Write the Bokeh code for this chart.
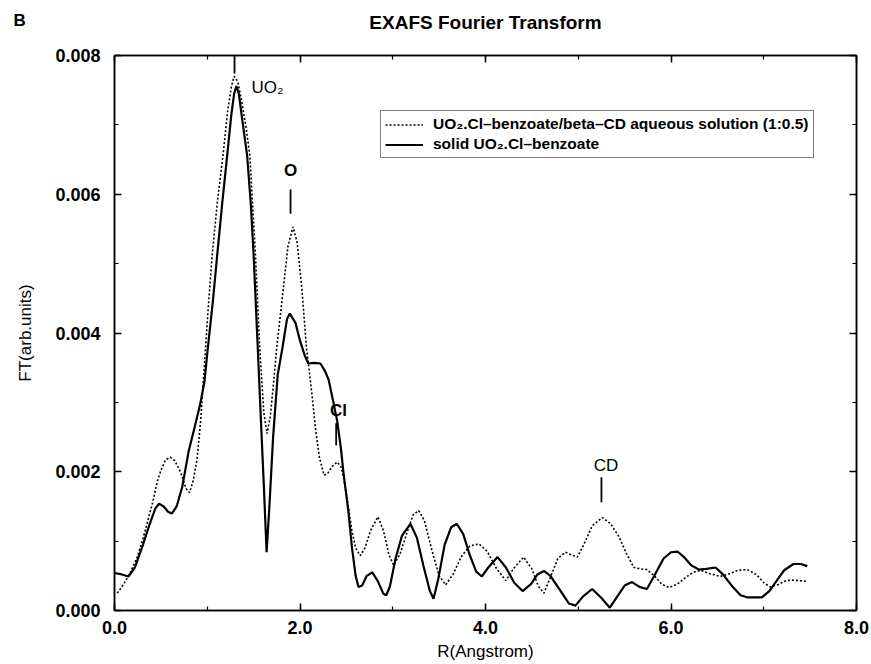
from bokeh.plotting import figure
from bokeh.models import (Range1d, SingleIntervalTicker, NumeralTickFormatter, LinearAxis,
                          Legend, LegendItem, CustomJSTickFormatter, ColumnDataSource)
from bokeh.core.properties import value
from bokeh.embed import file_html
from bokeh.resources import INLINE

FONT = "Liberation Sans"

# ---- data (R in Angstrom, FT in arb. units x 1e-3) ----
r_solution = [0.03, 0.10, 0.17, 0.24, 0.31, 0.37, 0.41, 0.46, 0.50, 0.55,
              0.60, 0.65, 0.70, 0.73, 0.77, 0.81, 0.85, 0.89, 0.93, 0.97,
              1.01, 1.053, 1.11, 1.17, 1.22, 1.26, 1.29, 1.33, 1.37, 1.42,
              1.459, 1.52, 1.566, 1.61, 1.645, 1.68, 1.72, 1.75, 1.82, 1.87,
              1.925, 1.97, 2.02, 2.07, 2.10, 2.13, 2.17, 2.21, 2.26, 2.30,
              2.35, 2.40, 2.44, 2.47, 2.52, 2.56, 2.60, 2.65, 2.70, 2.76,
              2.84, 2.90, 2.96, 3.01, 3.08, 3.16, 3.22, 3.28, 3.34, 3.42,
              3.50, 3.57, 3.65, 3.74, 3.83, 3.93, 4.02, 4.12, 4.22, 4.30,
              4.41, 4.50, 4.57, 4.63, 4.70, 4.78, 4.86, 4.93, 4.99, 5.06,
              5.15, 5.26, 5.35, 5.44, 5.52, 5.60, 5.67, 5.74, 5.82, 5.90,
              5.98, 6.07, 6.16, 6.24, 6.32, 6.42, 6.53, 6.63, 6.72, 6.82,
              6.92, 7.00, 7.07, 7.15, 7.22, 7.29, 7.38, 7.47]
ft_solution = [0.25, 0.38, 0.55, 0.75, 1.05, 1.35, 1.55, 1.85, 2.02, 2.17,
               2.21, 2.16, 2.03, 1.93, 1.76, 1.70, 1.88, 2.18, 2.75, 3.55,
               4.35, 5.12, 5.90, 6.56, 7.20, 7.55, 7.70, 7.62, 7.35, 6.95,
               6.56, 5.12, 3.78, 2.85, 2.55, 2.80, 3.35, 3.80, 4.64, 5.25,
               5.53, 5.30, 4.64, 3.78, 3.45, 3.10, 2.59, 2.20, 1.95, 1.98,
               2.08, 2.14, 2.08, 1.92, 1.50, 1.15, 0.90, 0.79, 0.90, 1.15,
               1.35, 1.15, 0.80, 0.65, 0.82, 1.15, 1.38, 1.44, 1.30, 0.88,
               0.50, 0.37, 0.52, 0.78, 0.93, 0.96, 0.85, 0.60, 0.43, 0.60,
               0.77, 0.60, 0.35, 0.25, 0.48, 0.75, 0.84, 0.80, 0.77, 0.95,
               1.22, 1.34, 1.25, 1.06, 0.82, 0.62, 0.60, 0.59, 0.50, 0.38,
               0.33, 0.38, 0.48, 0.55, 0.58, 0.53, 0.49, 0.53, 0.58, 0.59,
               0.52, 0.40, 0.34, 0.37, 0.42, 0.44, 0.43, 0.42]

r_solid = [0.00, 0.08, 0.15, 0.22, 0.30, 0.38, 0.44, 0.48, 0.53, 0.58,
           0.62, 0.67, 0.73, 0.80, 0.86, 0.92, 0.97, 1.006, 1.06, 1.107,
           1.16, 1.215, 1.26, 1.29, 1.315, 1.34, 1.38, 1.43, 1.47, 1.50,
           1.545, 1.58, 1.61, 1.64, 1.67, 1.71, 1.76, 1.81, 1.86, 1.89,
           1.95, 2.00, 2.05, 2.09, 2.15, 2.22, 2.27, 2.31, 2.36, 2.40,
           2.44, 2.47, 2.52, 2.56, 2.60, 2.63, 2.67, 2.72, 2.78, 2.84,
           2.90, 2.93, 2.97, 3.03, 3.10, 3.19, 3.26, 3.33, 3.40, 3.44,
           3.49, 3.56, 3.63, 3.69, 3.76, 3.83, 3.90, 3.96, 4.03, 4.13,
           4.22, 4.31, 4.40, 4.49, 4.56, 4.63, 4.70, 4.80, 4.90, 4.97,
           5.05, 5.15, 5.25, 5.34, 5.42, 5.50, 5.58, 5.66, 5.74, 5.82,
           5.92, 6.00, 6.07, 6.14, 6.22, 6.30, 6.38, 6.48, 6.56, 6.66,
           6.75, 6.82, 6.98, 7.06, 7.14, 7.22, 7.32, 7.40, 7.47]
ft_solid = [0.54, 0.52, 0.49, 0.62, 0.92, 1.25, 1.47, 1.54, 1.50, 1.42,
            1.40, 1.50, 1.78, 2.30, 2.62, 2.95, 3.30, 3.78, 4.45, 5.12,
            5.85, 6.56, 7.15, 7.45, 7.56, 7.45, 7.05, 6.56, 5.85, 5.12,
            3.78, 2.70, 1.80, 0.84, 1.50, 2.50, 3.40, 3.78, 4.20, 4.28,
            4.15, 3.89, 3.68, 3.56, 3.57, 3.56, 3.45, 3.32, 3.00, 2.74,
            2.35, 1.97, 1.45, 0.91, 0.50, 0.34, 0.36, 0.50, 0.55, 0.42,
            0.24, 0.22, 0.35, 0.75, 1.08, 1.25, 1.05, 0.65, 0.28, 0.17,
            0.45, 0.95, 1.20, 1.25, 1.10, 0.80, 0.56, 0.49, 0.62, 0.77,
            0.62, 0.40, 0.28, 0.38, 0.52, 0.57, 0.50, 0.30, 0.10, 0.07,
            0.20, 0.31, 0.18, 0.04, 0.20, 0.36, 0.41, 0.34, 0.31, 0.50,
            0.75, 0.84, 0.85, 0.77, 0.65, 0.59, 0.60, 0.62, 0.52, 0.35,
            0.22, 0.19, 0.19, 0.28, 0.43, 0.58, 0.67, 0.67, 0.64]

series_names = ["UO\u2082.Cl\u2013benzoate/beta\u2013CD aqueous solution (1:0.5)",
                "solid UO\u2082.Cl\u2013benzoate"]
chart_title = "EXAFS Fourier Transform"
panel_letter = "B"

# peak annotations
peak_text = ["UO\u2082", "O", "Cl", "CD"]
peak_text_r = [1.65, 1.898, 2.415, 5.30]
peak_text_ft = [7.54, 6.34, 2.88, 2.09]
peak_style = ["normal", "bold", "bold", "normal"]
marker_r = [1.294, 1.898, 2.39, 5.25]
marker_ft_low = [7.74, 5.72, 2.38, 1.56]
marker_ft_high = [8.00, 6.07, 2.70, 1.92]

x_ticks_interval = 2.0
y_ticks_interval = 0.002
scale = 1e-3

p = figure(width=869, height=663, output_backend="svg", toolbar_location=None,
           x_range=Range1d(0, 8), y_range=Range1d(0, 0.008),
           title=panel_letter,
           min_border_left=114, min_border_right=13, min_border_top=55, min_border_bottom=53,
           x_axis_label="R(Angstrom)", y_axis_label="FT(arb.units)")
p.xgrid.visible = False
p.ygrid.visible = False
p.outline_line_color = "black"
p.outline_line_width = 1.5
p.background_fill_color = "white"
p.border_fill_color = "white"

# panel letter "B" (outermost title, pulled down level with the chart title)
p.title.align = "left"
p.title.offset = -101
p.title.text_font = FONT
p.title.text_font_size = "17px"
p.title.text_font_style = "bold"
p.title.text_color = "black"
p.title.standoff = -43

xt = SingleIntervalTicker(interval=x_ticks_interval, num_minor_ticks=2)
yt = SingleIntervalTicker(interval=y_ticks_interval, num_minor_ticks=2)

def style_axis(ax):
    ax.axis_line_color = "black"
    ax.axis_line_width = 1.5
    ax.major_tick_line_color = "black"
    ax.minor_tick_line_color = "black"
    ax.major_tick_line_width = 1.5
    ax.minor_tick_line_width = 1.2
    ax.major_tick_in = 7
    ax.major_tick_out = 0
    ax.minor_tick_in = 4
    ax.minor_tick_out = 0

xa = p.xaxis[0]
xa.ticker = xt
xa.formatter = NumeralTickFormatter(format="0.0")
style_axis(xa)
xa.major_label_text_font = FONT
xa.major_label_text_font_size = "18px"
xa.major_label_text_font_style = "bold"
xa.major_label_text_color = "black"
xa.major_label_standoff = 10
xa.axis_label_text_font = FONT
xa.axis_label_text_font_size = "17px"
xa.axis_label_text_font_style = "normal"
xa.axis_label_text_color = "black"
xa.axis_label_standoff = 5

ya = p.yaxis[0]
ya.ticker = yt
ya.formatter = NumeralTickFormatter(format="0.000")
style_axis(ya)
ya.major_label_text_font = FONT
ya.major_label_text_font_size = "18px"
ya.major_label_text_font_style = "bold"
ya.major_label_text_color = "black"
ya.major_label_standoff = 14
ya.axis_label_text_font = FONT
ya.axis_label_text_font_size = "17px"
ya.axis_label_text_font_style = "normal"
ya.axis_label_text_color = "black"
ya.axis_label_standoff = 17

blank = CustomJSTickFormatter(code="return ''")
top = LinearAxis(ticker=xt, formatter=blank, major_label_text_font_size="1px",
                 major_label_standoff=0, axis_label=chart_title)
top.axis_label_text_font = FONT
top.axis_label_text_font_size = "19px"
top.axis_label_text_font_style = "bold"
top.axis_label_text_color = "black"
top.axis_label_standoff = 23
right = LinearAxis(ticker=yt, formatter=blank, major_label_text_font_size="1px",
                   major_label_standoff=0)
style_axis(top)
style_axis(right)
p.add_layout(top, "above")
p.add_layout(right, "right")

sol_ft = [v * scale for v in ft_solution]
sld_ft = [v * scale for v in ft_solid]

r1 = p.line(r_solution, sol_ft, line_color="black", line_width=1.6, line_dash="2 2")
r2 = p.line(r_solid, sld_ft, line_color="black", line_width=2.2)

src = ColumnDataSource(dict(x=peak_text_r, y=[v * scale for v in peak_text_ft],
                            t=peak_text, st=peak_style))
p.text(x="x", y="y", text="t", source=src, text_font=value(FONT), text_font_size="17px",
       text_font_style="st", text_align="center", text_baseline="middle", text_color="black")
p.segment(x0=marker_r, y0=[v * scale for v in marker_ft_low],
          x1=marker_r, y1=[v * scale for v in marker_ft_high],
          line_color="black", line_width=1.8)

legend = Legend(items=[LegendItem(label=series_names[0], renderers=[r1]),
                       LegendItem(label=series_names[1], renderers=[r2])],
                location=(266, 452), orientation="vertical")
legend.label_text_font = FONT
legend.label_text_font_size = "15.5px"
legend.label_text_font_style = "bold"
legend.label_text_color = "black"
legend.border_line_color = "black"
legend.border_line_width = 1.5
legend.background_fill_color = "white"
legend.background_fill_alpha = 1
legend.glyph_width = 38
legend.glyph_height = 17
legend.label_height = 17
legend.label_standoff = 10
legend.padding = 4
legend.spacing = 2
legend.margin = 0
p.add_layout(legend, "center")

open("out.html", "w").write(file_html(p, INLINE))
